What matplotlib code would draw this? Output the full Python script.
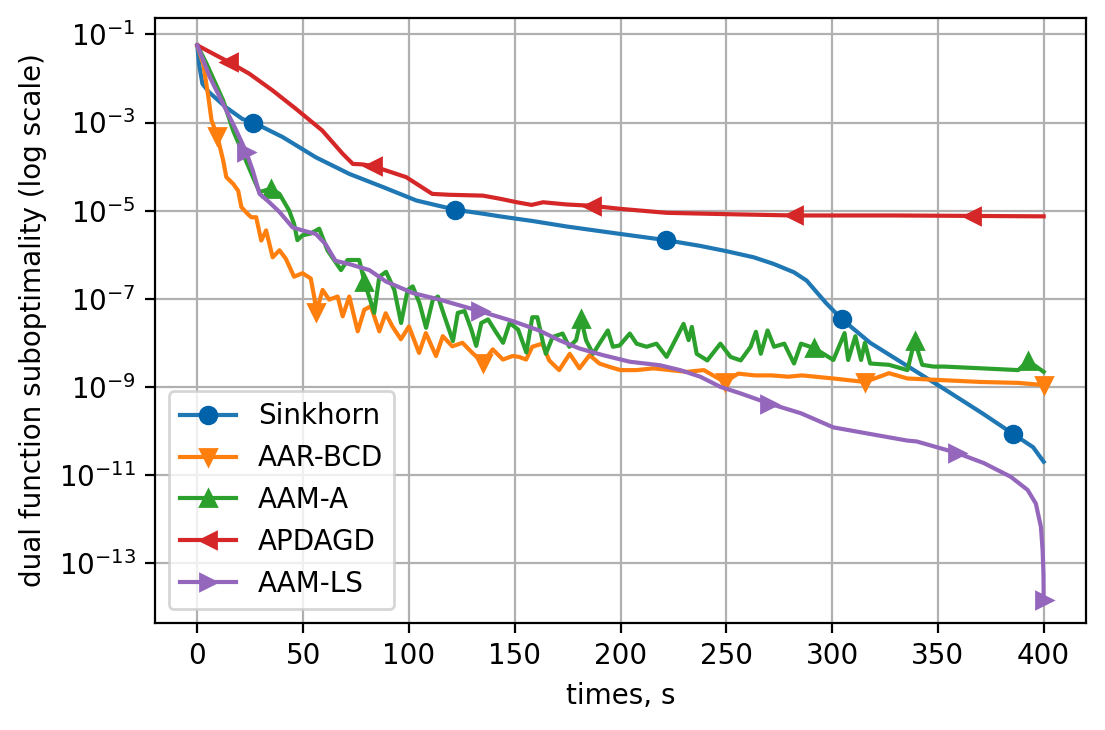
import numpy as np
import matplotlib
matplotlib.use("Agg")
import matplotlib.pyplot as plt

# data (log10 of suboptimality)
sinkhorn_t = [0, 0.8, 2.4, 5.5, 13.4, 21.3, 26.5, 40.3, 56, 72, 88, 103.5, 122, 135,
              143, 159, 174.5, 200, 221.5, 237.6, 250, 263, 272.4, 282, 288, 297,
              304.5, 318, 336, 354, 371, 385.6, 395, 400]
sinkhorn_log = [-1.25, -1.67, -2.12, -2.31, -2.65, -2.92, -3.0, -3.33, -3.79, -4.17, -4.47,
                -4.77, -4.98, -5.07, -5.13, -5.24, -5.36, -5.53, -5.67, -5.80, -5.92, -6.06,
                -6.21, -6.40, -6.59, -7.09, -7.46, -8.0, -8.54, -9.08, -9.6, -10.07,
                -10.37, -10.70]
sinkhorn_marks = [26.5, 122, 221.5, 304.5, 385.6]

aarbcd_t = [0, 2.8, 5.2, 6.7, 9.4, 12.2, 13.7, 16.9, 19.3, 20.8, 23.9, 25.5, 27.8, 30.2,
            32.5, 35.6, 38.8, 41.8, 45.7, 49.7, 53.6, 55.2, 56.3, 59.2, 62.3, 66.3, 68.7,
            71.8, 75.8, 78.9, 82, 86, 89, 92.2, 96.2, 100, 104.8, 108, 112.8, 116, 120.5,
            125.3, 130, 135, 139.6, 144.4, 149, 152, 155.4, 158.3, 163, 166.3, 171, 176,
            180.6, 185.4, 190, 195, 200, 207.6, 215.5, 223.5, 231.4, 239.4, 249.2, 255.6,
            263.5, 271.4, 279.4, 285.7, 300.6, 315.5, 326.9, 335.6, 353, 370.7, 388, 400]
aarbcd_log = [-1.25, -1.67, -2.42, -2.95, -3.30, -3.86, -4.24, -4.39, -4.55, -4.92, -5.08,
              -5.15, -5.15, -5.68, -5.45, -6.06, -5.9, -6.09, -6.5, -6.42, -6.54, -6.95,
              -7.29, -6.8, -7.02, -6.95, -7.4, -6.95, -7.74, -7.25, -7.17, -7.74, -7.33,
              -7.63, -7.92, -7.63, -8.23, -7.78, -8.3, -7.85, -8.08, -8.0, -8.23, -8.45,
              -8.15, -8.38, -8.3, -8.32, -8.38, -8.09, -8.02, -8.4, -8.62, -8.25, -8.58,
              -8.28, -8.47, -8.55, -8.62, -8.62, -8.58, -8.62, -8.66, -8.62, -8.89, -8.7,
              -8.74, -8.74, -8.77, -8.74, -8.81, -8.89, -8.69, -8.81, -8.85, -8.89, -8.91,
              -8.96]
aarbcd_marks = [9.4, 56.3, 135, 249.2, 315.5, 400]

aama_t = [0, 4.4, 12.2, 16.9, 21.6, 27, 29.4, 34.8, 38.8, 43.4, 45.7, 47.3, 49.7, 53.6,
          57.6, 61.5, 67.9, 71, 76.5, 79, 83.6, 86, 89.2, 93.1, 96.3, 99.4, 101.8, 105,
          108.1, 111.3, 113.7, 116.8, 120.8, 123.1, 126.3, 129.5, 131.8, 134.2, 137.4,
          141.3, 144.5, 147.6, 151.6, 155.5, 158.3, 160.7, 163.1, 164.7, 167.9, 172.6,
          175.8, 179, 181.4, 183.7, 187, 190, 194, 196.4, 199.6, 204.4, 207.6, 212.3, 217,
          221.8, 225, 229.8, 232.2, 233.7, 236, 241, 247.2, 252, 256.8, 261.5, 264, 266.3,
          269.5, 272.6, 277.4, 282, 285.3, 291.5, 300.6, 305.9, 307.6, 311, 313.7, 315.5,
          318, 326.9, 335.6, 339, 342.6, 347.9, 353, 370.7, 388, 392.6, 400]
aama_log = [-1.25, -1.67, -2.5, -3.18, -3.71, -4.32, -4.58, -4.5, -4.62, -5.0, -5.3, -5.67,
            -5.56, -5.52, -5.41, -5.9, -6.35, -6.12, -6.12, -6.62, -7.32, -6.5, -6.39, -6.8,
            -7.55, -6.8, -6.72, -7.1, -7.66, -7.02, -6.95, -7.4, -7.96, -7.32, -7.28, -7.7,
            -8.07, -7.55, -7.47, -7.77, -8.0, -7.55, -7.7, -8.22, -7.42, -7.42, -7.94,
            -8.25, -7.87, -7.79, -8.09, -7.94, -7.45, -7.94, -8.25, -8.02, -7.72, -8.09,
            -8.06, -7.79, -8.02, -8.09, -8.02, -8.32, -8.02, -7.57, -7.94, -7.64, -8.25,
            -8.4, -8.02, -8.32, -8.4, -8.09, -7.75, -8.25, -7.72, -8.09, -8.02, -8.47,
            -8.02, -8.12, -8.39, -7.78, -8.39, -7.85, -8.39, -8.0, -8.47, -8.5, -8.62,
            -7.95, -8.5, -8.54, -8.54, -8.58, -8.62, -8.41, -8.66]
aama_marks = [34.8, 79, 181.4, 291.5, 339, 392.6]

apdagd_t = [0, 3.2, 15, 24.5, 35.5, 46.6, 59, 68.7, 73.5, 78, 83, 98.7, 111, 119, 135, 143,
            151, 158, 163.4, 174.5, 186.3, 200, 221.8, 250, 282, 300, 330, 366, 400]
apdagd_log = [-1.25, -1.33, -1.63, -1.89, -2.27, -2.69, -3.18, -3.71, -3.94, -3.95, -3.99,
              -4.24, -4.62, -4.64, -4.66, -4.73, -4.81, -4.87, -4.81, -4.86, -4.89, -4.96,
              -5.05, -5.08, -5.11, -5.11, -5.11, -5.12, -5.13]
apdagd_marks = [15, 83, 186.3, 282, 366]

aamls_t = [0, 5.9, 12.2, 18.4, 23.1, 26.2, 29.4, 34, 38.8, 45, 49.7, 56, 60.6, 65.3, 71.6,
           81.3, 89.2, 101.8, 114.5, 133.4, 149.2, 161.5, 171, 180.6, 191.7, 204.4, 218.7,
           228.2, 237.7, 247.2, 256.8, 270.3, 285.3, 300.6, 318, 335.6, 340, 359, 371.7,
           384.4, 392.4, 396.3, 398.7, 399.5, 399.9, 400]
aamls_log = [-1.25, -1.97, -2.58, -3.18, -3.67, -4.09, -4.62, -4.81, -5.03, -5.38, -5.45,
             -5.53, -5.76, -6.14, -6.21, -6.35, -6.61, -6.87, -7.02, -7.28, -7.51, -7.72,
             -7.94, -8.13, -8.28, -8.43, -8.51, -8.62, -8.77, -9.0, -9.15, -9.38, -9.6,
             -9.92, -10.07, -10.22, -10.24, -10.5, -10.73, -11.04, -11.34, -11.65, -12.18,
             -12.71, -13.24, -13.84]
aamls_marks = [23.1, 133.4, 270.3, 359, 400]


def mark_idx(t, marks):
    t = np.asarray(t)
    return [int(np.argmin(np.abs(t - m))) for m in marks]


fig, ax = plt.subplots(figsize=(5.525, 3.65), dpi=200)
fig.subplots_adjust(left=0.1403, right=0.9828, bottom=0.1466, top=0.9758)

ax.plot(sinkhorn_t, 10 ** np.array(sinkhorn_log), marker="o", color="tab:blue",
        mfc="#0062a8", mec="#0062a8", markevery=mark_idx(sinkhorn_t, sinkhorn_marks),
        label="Sinkhorn")
ax.plot(aarbcd_t, 10 ** np.array(aarbcd_log), marker="v", color="tab:orange",
        markevery=mark_idx(aarbcd_t, aarbcd_marks), label="AAR-BCD")
ax.plot(aama_t, 10 ** np.array(aama_log), marker="^", color="tab:green",
        markevery=mark_idx(aama_t, aama_marks), label="AAM-A")
ax.plot(apdagd_t, 10 ** np.array(apdagd_log), marker="<", color="tab:red",
        markevery=mark_idx(apdagd_t, apdagd_marks), label="APDAGD")
# last point of AAM-LS has its own marker, index from the end
ax.plot(aamls_t, 10 ** np.array(aamls_log), marker=">", color="tab:purple",
        markevery=mark_idx(aamls_t, aamls_marks[:-1]) + [len(aamls_t) - 1], label="AAM-LS")

ax.set_yscale("log")
ax.set_xlim(-20, 420)
ax.set_ylim(10 ** -14.36, 10 ** -0.62)
ax.set_xlabel("times, s")
ax.set_ylabel("dual function suboptimality (log scale)")
ax.grid(True)
ax.legend(loc="lower left")

fig.savefig("out.png", dpi=200)
